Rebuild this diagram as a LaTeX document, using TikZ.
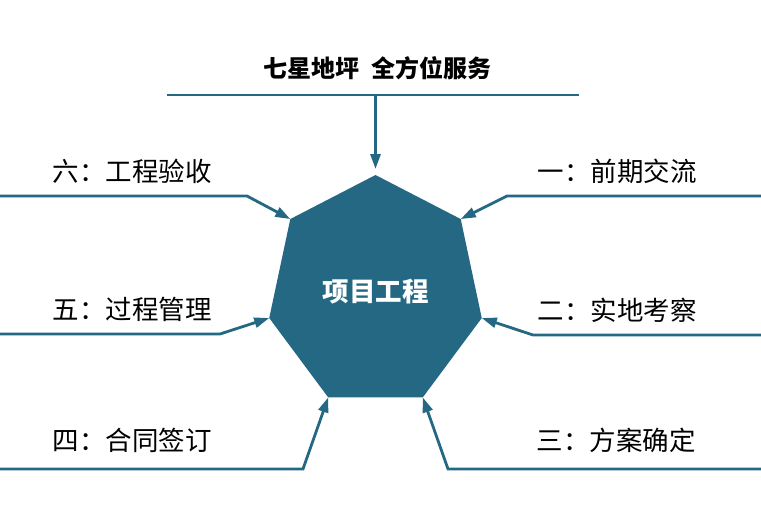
\documentclass[tikz,border=0pt]{standalone}
\usepackage{fontspec}
\newfontfamily\cjk{Noto Sans CJK SC}
\usetikzlibrary{arrows.meta, calc}
\definecolor{hepblue}{RGB}{36,104,131}
\tikzset{
  step label/.style={
    font=\cjk\fontsize{26.5}{30}\selectfont,
    text=black,
    inner sep=0pt
  },
  feed/.style={
    draw=hepblue,
    line width=2.8pt,
    -{Triangle[length=15pt,width=10pt]}
  },
  bar/.style={
    draw=hepblue,
    line width=2.8pt
  }
}
\begin{document}
\begin{tikzpicture}[
  x=1pt, y=-1pt,
  hub/.style={font=\cjk\bfseries\fontsize{26.5}{30}\selectfont, text=white, inner sep=0pt},
  title/.style={font=\cjk\bfseries\fontsize{24}{28}\selectfont, inner sep=0pt}
]
\useasboundingbox (0,0) rectangle (761,527);

% heptagon
\coordinate (ctr) at (375.5,292);
\foreach \i in {0,...,6}
  \coordinate (v\i) at ($(ctr)+({109*sin(51.43*\i)},{-117*cos(51.43*\i)})$);
\fill[hepblue] (v0) -- (v1) -- (v2) -- (v3) -- (v4) -- (v5) -- (v6) -- cycle;
\node[hub] (core) at (ctr) {项目工程};

% top
\node[title] (head) at (377.5,68) {七星地坪\hspace{0.5em}全方位服务};
\coordinate (tl) at (167,95);
\coordinate (tr) at (579,95);
\coordinate (tm) at (375.5,95);
\draw[bar] (tl) -- (tr);
\draw[feed, shorten >=6pt] (tm) -- (v0);

% right side
\node[step label] (s1) at (617,171) {一：前期交流};
\node[step label] (s2) at (617,310) {二：实地考察};
\node[step label] (s3) at (616,440) {三：方案确定};
\coordinate (a1) at (761,196); \coordinate (b1) at (507,196);
\coordinate (a2) at (761,335); \coordinate (b2) at (533,335);
\coordinate (a3) at (761,469); \coordinate (b3) at (448,469);
\draw[feed] (a1) -- (b1) -- (v1);
\draw[feed] (a2) -- (b2) -- (v2);
\draw[feed] (a3) -- (b3) -- (v3);

% left side
\node[step label] (s4) at (132,440) {四：合同签订};
\node[step label] (s5) at (132,309) {五：过程管理};
\node[step label] (s6) at (132,171) {六：工程验收};
\coordinate (a4) at (0,469); \coordinate (b4) at (303,469);
\coordinate (a5) at (0,334); \coordinate (b5) at (220,334);
\coordinate (a6) at (0,196); \coordinate (b6) at (247,196);
\draw[feed] (a4) -- (b4) -- (v4);
\draw[feed] (a5) -- (b5) -- (v5);
\draw[feed] (a6) -- (b6) -- (v6);
\end{tikzpicture}
\end{document}
